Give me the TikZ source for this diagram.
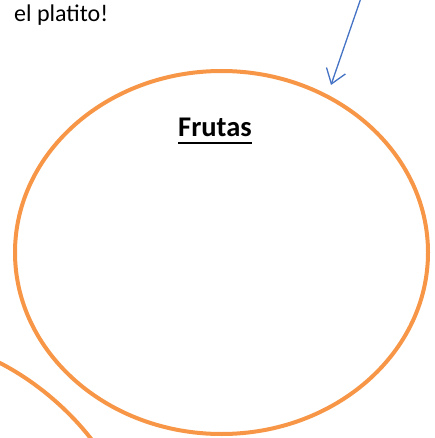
\documentclass[tikz,border=0pt]{standalone}
\usepackage{fontspec}
\setmainfont{Carlito}
\usetikzlibrary{arrows.meta}
\definecolor{orng}{HTML}{F79646}
\definecolor{blu}{HTML}{4472C4}
\tikzset{plate/.style={draw=orng,line width=4pt},
  arr/.style={draw=blu,line width=1.3pt,-{Straight Barb[length=14pt,width=20pt,line width=1.3pt]}}}
\begin{document}
\begin{tikzpicture}[x=1pt,y=-1pt]
\useasboundingbox (0,0) rectangle (434,438);
\node[anchor=base west,inner sep=0pt,font=\fontsize{24}{28}\selectfont] (txt) at (14,22) {el platito!};
\draw[plate] (221.5,252.5) ellipse [x radius=206.5,y radius=181.5];
\node[anchor=base,inner sep=0pt,font=\fontsize{28.5}{32}\selectfont\bfseries] (fr) at (215,137) {Frutas};
\draw[line width=2pt] (fr.west |- 0,143) -- (fr.east |- 0,143);
\coordinate (a0) at (361,-2);
\coordinate (a1) at (331,85);
\draw[arr] (a0) -- (a1);
\draw[plate] (-2,362) .. controls (30,378) and (65,405) .. (92,440);
\end{tikzpicture}
\end{document}
